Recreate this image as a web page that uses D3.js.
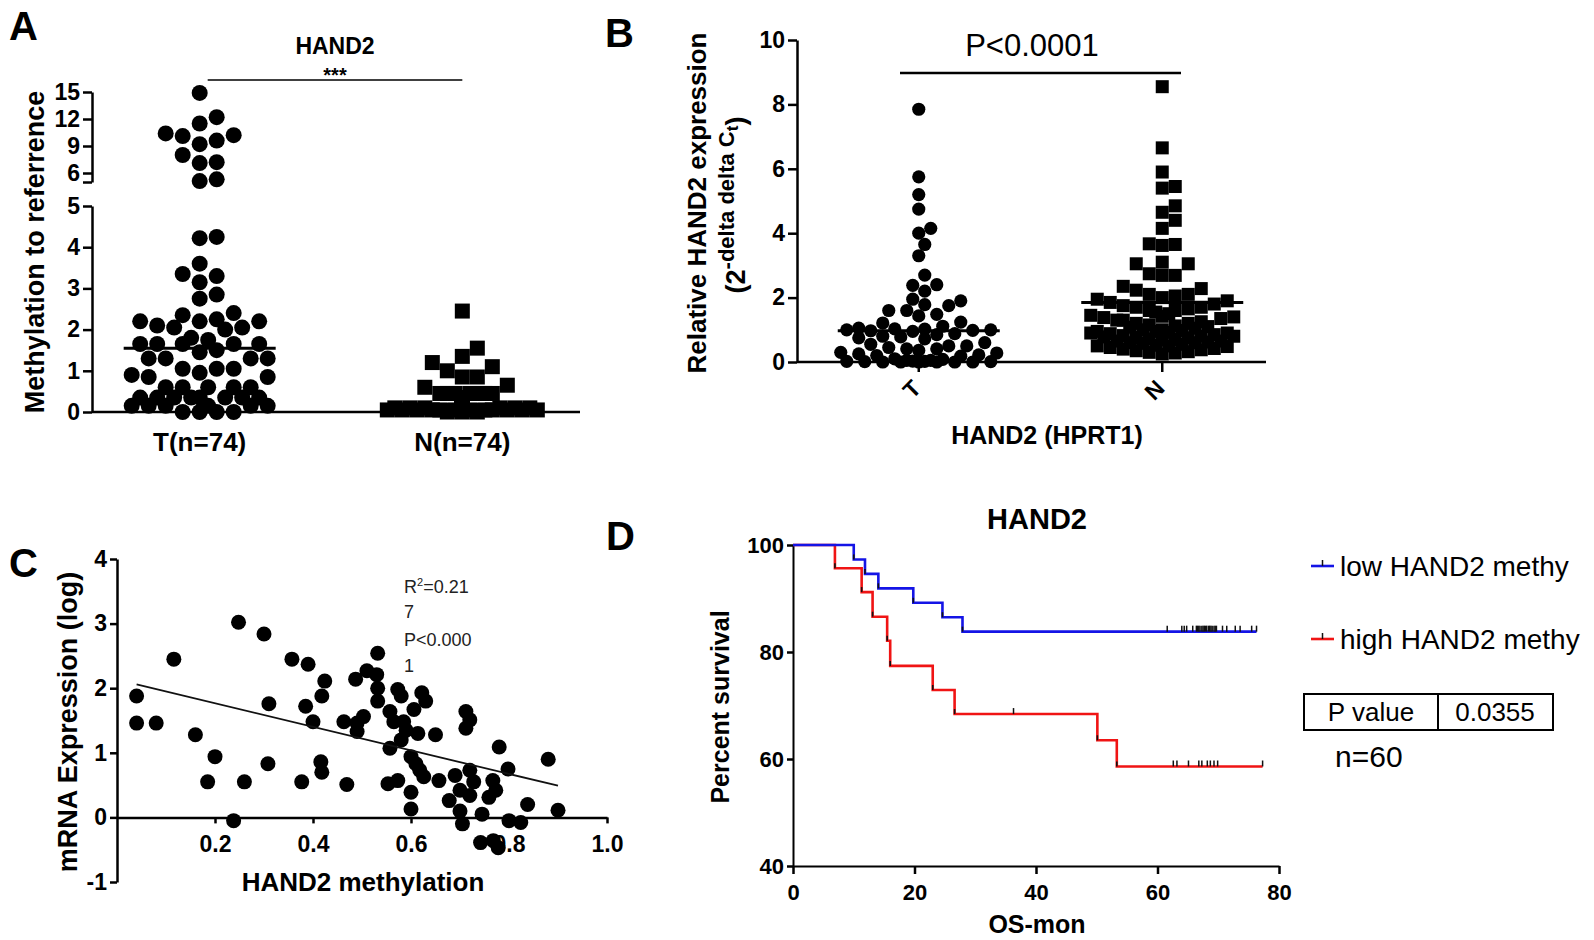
<!DOCTYPE html>
<html><head><meta charset="utf-8">
<script src="https://cdn.jsdelivr.net/npm/d3@7"></script>
<style>
body{margin:0;background:#fff}
svg{display:block}
text{font-family:"Liberation Sans",Arial,sans-serif}
</style>
</head><body>
<svg id="chart" width="1594" height="940"></svg>
<script>
// ---------------- DATA ----------------
// Panel A: methylation to reference
const catsA = ["T(n=74)", "N(n=74)"];
const tumorMethyl = [14.9, 12.2, 11.5, 10.1, 10.4, 10.2, 9.6, 9.2, 8.0, 7.1, 7.2, 5.1, 5.3,
  4.25, 4.22, 3.6, 3.3, 3.35, 3.15, 2.85, 2.75,
  2.2, 2.2, 2.35, 2.25, 2.4, 2.2, 2.05, 2.0, 2.05, 2.1, 1.8, 1.75,
  1.65, 1.65, 1.65, 1.65, 1.65, 1.5, 1.45, 1.3, 1.3, 1.3, 1.3,
  1.05, 1.05, 1.05, 0.95, 0.85, 0.85, 0.9,
  0.6, 0.6, 0.6, 0.6, 0.6, 0.35, 0.35, 0.35, 0.35, 0.35, 0.35, 0.35, 0.35,
  0.15, 0.15, 0.15, 0.15, 0.15, 0.15, 0.0, 0.0, 0.0, 0.0];
const normalMethyl = [2.45, 1.55, 1.35, 1.2, 1.1, 1.0, 0.85, 0.85, 0.65, 0.6,
  0.45, 0.45, 0.45, 0.45, 0.45, 0.45, 0.45,
  0.35, 0.35, 0.35, 0.35, 0.35, 0.35, 0.35, 0.35,
  0.25, 0.25, 0.25, 0.25, 0.25, 0.25, 0.25, 0.25, 0.25, 0.25,
  0.18, 0.18, 0.18, 0.18, 0.18, 0.18, 0.18, 0.18, 0.18, 0.18,
  0.1, 0.1, 0.1, 0.1, 0.1, 0.1, 0.1, 0.1, 0.1, 0.1, 0.1, 0.1, 0.1, 0.1,
  0.05, 0.05, 0.05, 0.05, 0.05, 0.05, 0.05, 0.05, 0.05, 0.05, 0.05, 0.05,
  0.0, 0.0, 0.0];
const centerLineA = [1.55, 0.18];
const yTicksALow = [0, 1, 2, 3, 4, 5];
const yTicksAHigh = [6, 9, 12, 15];

// Panel B: relative expression
const catsB = ["T", "N"];
const tumorExpr = [7.85, 5.75, 5.2, 4.75, 4.15, 4.0, 3.65, 3.3, 2.7, 2.4, 2.38, 2.2, 1.95, 1.9,
  1.78, 1.75, 1.6, 1.6, 1.48, 1.43, 1.24, 1.21, 1.11,
  1.05, 1.02, 1.0, 0.98, 0.97, 1.03, 1.0, 0.95,
  0.85, 0.8, 0.75, 0.72, 0.88, 0.78,
  0.6, 0.55, 0.5, 0.45, 0.41, 0.36, 0.41, 0.5,
  0.3, 0.25, 0.2, 0.22, 0.28, 0.18,
  0.1, 0.08, 0.05, 0.05, 0.03, 0.02, 0.02, 0.01, 0.01, 0.0, 0.0, 0.0, 0.0, 0.0, 0.0];
const normalExpr = [8.55, 6.65, 5.9, 5.45, 5.4, 4.85, 4.65, 4.4, 4.15, 3.65, 3.62, 3.67,
  3.05, 3.05, 3.1, 2.74, 2.69, 2.69, 2.28, 2.23, 2.35,
  2.1, 2.05, 2.0, 1.95, 1.9, 2.1, 1.85,
  1.8, 1.7, 1.65, 1.6, 1.75, 1.55, 1.7, 1.6,
  1.5, 1.45, 1.4, 1.35, 1.3, 1.42, 1.38, 1.3,
  1.25, 1.2, 1.15, 1.1, 1.05, 1.2, 1.12, 1.08,
  1.0, 0.98, 0.95, 0.92, 0.9, 0.88, 1.0, 0.95, 0.9,
  0.85, 0.82, 0.8, 0.78, 0.75, 0.72, 0.8, 0.76, 0.7,
  0.68, 0.65, 0.62, 0.6, 0.58, 0.55, 0.65, 0.6,
  0.52, 0.5, 0.48, 0.45, 0.42, 0.4, 0.5,
  0.38, 0.35, 0.32, 0.3, 0.28, 0.25];
const centerLineB = [0.97, 1.85];
const yTicksB = [0, 2, 4, 6, 8, 10];

// Panel C: methylation vs expression
const methylC = [0.04, 0.04, 0.08, 0.116, 0.16, 0.20, 0.185, 0.238, 0.248, 0.26, 0.30, 0.31, 0.308,
  0.357, 0.39, 0.385, 0.40, 0.377, 0.424, 0.418, 0.416, 0.418, 0.463, 0.469, 0.487, 0.49, 0.49,
  0.503, 0.51, 0.53, 0.532, 0.532, 0.532, 0.557, 0.557, 0.553, 0.573, 0.565, 0.573, 0.58, 0.58,
  0.585, 0.59, 0.60, 0.60, 0.60, 0.606, 0.61, 0.614, 0.618, 0.622, 0.626, 0.63, 0.65, 0.657,
  0.678, 0.69, 0.70, 0.70, 0.705, 0.712, 0.72, 0.712, 0.72, 0.728, 0.72, 0.742, 0.745, 0.759,
  0.767, 0.773, 0.768, 0.778, 0.78, 0.798, 0.80, 0.824, 0.838, 0.88, 0.90];
const exprC = [1.88, 1.46, 1.46, 2.45, 1.28, 0.94, 0.55, -0.05, 3.02, 0.55, 2.84, 1.76, 0.83,
  2.45, 2.37, 1.72, 1.48, 0.55, 2.11, 1.88, 0.86, 0.70, 1.48, 0.51, 2.14, 1.46, 1.33,
  1.56, 2.27, 2.21, 2.54, 2.0, 1.8, 1.64, 1.07, 0.52, 0.57, 1.48, 1.98, 1.88, 1.2,
  1.48, 1.35, 0.94, 0.39, 0.13, 1.67, 0.83, 1.3, 0.73, 1.93, 0.63, 1.8, 1.28, 0.57,
  0.26, 0.65, 0.42, 0.1, -0.1, 1.64, 1.51, 1.38, 0.73, 0.55, 0.34, -0.39, 0.05, 0.31,
  0.57, 0.42, -0.36, -0.47, 1.09, 0.75, -0.05, -0.08, 0.2, 0.9, 0.11];
const fitX = [0.04, 0.90];
const fitY = [2.06, 0.49];
const statsC = ["R\u00B2=0.21", "7", "P<0.000", "1"];
const xTicksC = [0.2, 0.4, 0.6, 0.8, 1.0];
const yTicksC = [-1, 0, 1, 2, 3, 4];

// Panel D: Kaplan-Meier
const groupsD = ["low HAND2 methy", "high HAND2 methy"];
const colorsD = ["#1414e6", "#f01414"];
const lowTimes = [0, 10.0, 11.85, 14.05, 19.8, 24.6, 27.9];
const lowSurv = [100, 97.3, 94.6, 91.9, 89.2, 86.5, 83.8];
const lowEnd = 76.3;
const lowCensor = [61.6, 64.0, 64.4, 64.8, 65.8, 66.4, 66.6, 66.8, 67.0, 67.3, 67.5, 67.7, 67.9,
  68.1, 68.4, 68.6, 68.8, 69.0, 69.3, 69.5, 69.7, 70.7, 71.4, 72.8, 73.6, 75.5, 76.3];
const highTimes = [0, 6.9, 11.3, 13.1, 15.5, 16.0, 23.0, 26.6, 50.1, 53.3];
const highSurv = [100, 95.65, 91.2, 86.6, 82.1, 77.4, 72.9, 68.4, 63.5, 58.6];
const highEnd = 77.3;
const highCensor = [36.3, 62.6, 63.2, 65.1, 66.8, 67.3, 68.2, 68.7, 69.3, 69.9, 77.3];
const xTicksD = [0, 20, 40, 60, 80];
const yTicksD = [40, 60, 80, 100];
const pTable = ["P value", "0.0355"];
const nLabel = "n=60";

// ---------------- HELPERS ----------------
const svg = d3.select("#chart");
const FONT = '"Liberation Sans",Arial,sans-serif';
const intFmt = d => String(d);

function styleAxis(g, size, weight) {
  g.select(".domain").attr("stroke", "#000").attr("stroke-width", 2.5);
  g.selectAll(".tick line").attr("stroke", "#000").attr("stroke-width", 2.5);
  g.selectAll(".tick text").attr("font-family", FONT).attr("font-size", size)
    .attr("font-weight", weight || "bold").attr("fill", "#000");
  g.attr("font-family", null).attr("font-size", null);
}

// beeswarm-like column layout (GraphPad style)
function swarm(values, yf, size, step, maxOff, shape) {
  const pts = values.map(v => ({ v, y: yf(v) })).sort((a, b) => b.y - a.y);
  const placed = [];
  const ks = [0];
  for (let k = 1; k * step <= maxOff + 0.01; k++) { ks.push(k, -k); }
  pts.forEach(p => {
    let chosen = null, bestGap = -Infinity, bestX = 0;
    for (const k of ks) {
      const x = k * step;
      let gap = Infinity, ok = true;
      for (const q of placed) {
        const dy = Math.abs(q.y - p.y);
        if (dy >= size) continue;
        if (shape === "circle") {
          const d = Math.hypot(x - q.x, p.y - q.y);
          if (d < size * 0.97) { ok = false; gap = Math.min(gap, d); }
        } else {
          const dx = Math.abs(x - q.x);
          if (dx < size * 0.97) { ok = false; gap = Math.min(gap, dx); }
        }
      }
      if (ok) { chosen = x; break; }
      if (gap > bestGap + 0.5) { bestGap = gap; bestX = x; }
    }
    p.x = chosen !== null ? chosen : bestX;
    placed.push(p);
  });
  return placed;
}

function panelLetter(t, x, y) {
  svg.append("text").attr("x", x).attr("y", y).attr("font-size", 40)
    .attr("font-weight", "bold").text(t);
}
function boldText(g, x, y, size, txt, rot) {
  const t = g.append("text").attr("text-anchor", "middle").attr("font-size", size).attr("font-weight", "bold");
  if (rot) t.attr("transform", `translate(${x},${y}) rotate(-90)`);
  else t.attr("x", x).attr("y", y);
  return t.text(txt);
}

// ---------------- PANEL A ----------------
(function () {
  const yLow = d3.scaleLinear().domain([0, 5]).range([412, 206]);
  const yHigh = d3.scaleLinear().domain([5, 15]).range([182, 92]);
  const yA = v => (v <= 5 ? yLow(v) : yHigh(v));
  const xA = d3.scalePoint().domain(catsA).range([92, 570]).padding(0.41);
  const g = svg.append("g");

  const gl = g.append("g").attr("transform", "translate(92,0)")
    .call(d3.axisLeft(yLow).tickValues(yTicksALow).tickFormat(intFmt).tickSize(9).tickSizeOuter(0).tickPadding(3));
  styleAxis(gl, 23);
  const gh = g.append("g").attr("transform", "translate(92,0)")
    .call(d3.axisLeft(yHigh).tickValues([5].concat(yTicksAHigh)).tickSize(9).tickSizeOuter(0).tickPadding(3)
      .tickFormat(d => (d === 5 ? "" : String(d))));
  styleAxis(gh, 23);

  g.append("line").attr("x1", 92).attr("x2", 580).attr("y1", yLow(0)).attr("y2", yLow(0))
    .attr("stroke", "#000").attr("stroke-width", 2.5);
  catsA.forEach(c => boldText(g, xA(c), 451, 26, c));

  const tPts = swarm(tumorMethyl, yA, 16, 8.5, 72, "circle");
  g.append("g").selectAll("circle").data(tPts).join("circle")
    .attr("cx", d => xA(catsA[0]) + d.x).attr("cy", d => d.y).attr("r", 8).attr("fill", "#000");
  const nPts = swarm(normalMethyl, yA, 15, 7.5, 80, "square");
  g.append("g").selectAll("rect").data(nPts).join("rect")
    .attr("x", d => xA(catsA[1]) + d.x - 7.5).attr("y", d => d.y - 7.5)
    .attr("width", 15).attr("height", 15).attr("fill", "#000");

  [[catsA[0], centerLineA[0], 76], [catsA[1], centerLineA[1], 80]].forEach(([c, v, hw]) => {
    g.append("line").attr("x1", xA(c) - hw).attr("x2", xA(c) + hw)
      .attr("y1", yLow(v)).attr("y2", yLow(v)).attr("stroke", "#000").attr("stroke-width", 3);
  });

  boldText(g, 44, 252, 27, "Methylation to referrence", true);
  boldText(g, 335, 54, 23, "HAND2");
  g.append("line").attr("x1", xA(catsA[0]) + 8).attr("x2", xA(catsA[1]))
    .attr("y1", 80).attr("y2", 80).attr("stroke", "#000").attr("stroke-width", 1.5);
  boldText(g, 335, 82, 20, "***");
  panelLetter("A", 9, 40);
})();

// ---------------- PANEL B ----------------
(function () {
  const yB = d3.scaleLinear().domain([0, 10]).range([362, 40]);
  const xB = d3.scalePoint().domain(catsB).range([797, 1284]).padding(0.5);
  const g = svg.append("g");
  const gy = g.append("g").attr("transform", "translate(797,0)")
    .call(d3.axisLeft(yB).tickValues(yTicksB).tickFormat(intFmt).tickSize(9).tickSizeOuter(0).tickPadding(3));
  styleAxis(gy, 23);
  g.append("line").attr("x1", 797).attr("x2", 1266).attr("y1", yB(0)).attr("y2", yB(0))
    .attr("stroke", "#000").attr("stroke-width", 2.5);
  catsB.forEach(c => {
    g.append("line").attr("x1", xB(c)).attr("x2", xB(c)).attr("y1", yB(0)).attr("y2", yB(0) + 10)
      .attr("stroke", "#000").attr("stroke-width", 2.5);
    g.append("text").attr("transform", `translate(${xB(c) - 2},${yB(0) + 22}) rotate(-45)`)
      .attr("text-anchor", "end").attr("dy", "0.35em")
      .attr("font-size", 23).attr("font-weight", "bold").text(c);
  });

  const tPts = swarm(tumorExpr, yB, 13, 6, 81, "circle");
  g.append("g").selectAll("circle").data(tPts).join("circle")
    .attr("cx", d => xB(catsB[0]) + d.x).attr("cy", d => d.y).attr("r", 6.6).attr("fill", "#000");
  const nPts = swarm(normalExpr, yB, 13, 6.5, 72, "square");
  g.append("g").selectAll("rect").data(nPts).join("rect")
    .attr("x", d => xB(catsB[1]) + d.x - 6.5).attr("y", d => d.y - 6.5)
    .attr("width", 13).attr("height", 13).attr("fill", "#000");

  catsB.forEach((c, i) => {
    g.append("line").attr("x1", xB(c) - 81).attr("x2", xB(c) + 81)
      .attr("y1", yB(centerLineB[i])).attr("y2", yB(centerLineB[i]))
      .attr("stroke", "#000").attr("stroke-width", 3);
  });

  g.append("line").attr("x1", 900).attr("x2", 1181).attr("y1", 73).attr("y2", 73)
    .attr("stroke", "#000").attr("stroke-width", 2.5);
  g.append("text").attr("x", 1032).attr("y", 56).attr("text-anchor", "middle")
    .attr("font-size", 31).text("P<0.0001");

  boldText(g, 1047, 444, 25, "HAND2 (HPRT1)");
  boldText(g, 706, 203, 26, "Relative HAND2 expression", true);
  const t2 = g.append("text").attr("transform", "translate(745,205) rotate(-90)").attr("text-anchor", "middle")
    .attr("font-size", 27).attr("font-weight", "bold");
  t2.append("tspan").text("(2");
  t2.append("tspan").attr("font-size", 22).attr("dy", -11).text("-delta delta C");
  t2.append("tspan").attr("font-size", 17).attr("dy", 4).text("t");
  t2.append("tspan").attr("dy", 7).text(")");
  panelLetter("B", 605, 47);
})();

// ---------------- PANEL C ----------------
(function () {
  const xC = d3.scaleLinear().domain([0, 1]).range([117, 607]);
  const yC = d3.scaleLinear().domain([-1, 4]).range([882, 559]);
  const g = svg.append("g");
  const gy = g.append("g").attr("transform", "translate(117,0)")
    .call(d3.axisLeft(yC).tickValues(yTicksC).tickFormat(intFmt).tickSize(7).tickSizeOuter(0).tickPadding(3));
  styleAxis(gy, 23);
  const gx = g.append("g").attr("transform", `translate(0,${yC(0)})`)
    .call(d3.axisBottom(xC).tickValues(xTicksC).tickFormat(d3.format(".1f")).tickSize(6)
      .tickSizeOuter(0).tickPadding(12));
  styleAxis(gx, 23);

  g.append("g").selectAll("circle").data(methylC).join("circle")
    .attr("cx", d => xC(d)).attr("cy", (d, i) => yC(exprC[i])).attr("r", 7.5).attr("fill", "#000");
  g.append("line").attr("x1", xC(fitX[0])).attr("x2", xC(fitX[1]))
    .attr("y1", yC(fitY[0])).attr("y2", yC(fitY[1])).attr("stroke", "#111").attr("stroke-width", 1.8);

  const stBase = [593, 618, 646, 672];
  statsC.forEach((s, i) => {
    const t = g.append("text").attr("x", 404).attr("y", stBase[i]).attr("font-size", 18).attr("fill", "#222");
    if (i === 0) {
      t.append("tspan").text("R");
      t.append("tspan").attr("font-size", 11).attr("dy", -7).text("2");
      t.append("tspan").attr("dy", 7).text("=0.21");
    } else t.text(s);
  });

  boldText(g, 363, 891, 26, "HAND2 methylation");
  boldText(g, 77, 722, 27, "mRNA Expression (log)", true);
  panelLetter("C", 9, 577);
})();

// ---------------- PANEL D ----------------
(function () {
  const xD = d3.scaleLinear().domain([0, 80]).range([793, 1279]);
  const yD = d3.scaleLinear().domain([40, 100]).range([866, 545]);
  const g = svg.append("g");
  const gy = g.append("g").attr("transform", "translate(793,0)")
    .call(d3.axisLeft(yD).tickValues(yTicksD).tickFormat(intFmt).tickSize(6).tickSizeOuter(0).tickPadding(3));
  styleAxis(gy, 22);
  const gx = g.append("g").attr("transform", `translate(0,${yD(40)})`)
    .call(d3.axisBottom(xD).tickValues(xTicksD).tickFormat(intFmt).tickSize(8).tickSizeOuter(0).tickPadding(10));
  styleAxis(gx, 22);
  gy.select(".domain").attr("stroke-width", 2);
  gx.select(".domain").attr("stroke-width", 2);

  const line = d3.line().x(d => xD(d[0])).y(d => yD(d[1])).curve(d3.curveStepAfter);
  const groups = [
    { times: lowTimes, surv: lowSurv, end: lowEnd, cens: lowCensor, color: colorsD[0] },
    { times: highTimes, surv: highSurv, end: highEnd, cens: highCensor, color: colorsD[1] }
  ];
  groups.slice().reverse().forEach(gr => {
    const pts = gr.times.map((t, i) => [t, gr.surv[i]]);
    pts.push([gr.end, gr.surv[gr.surv.length - 1]]);
    g.append("path").attr("d", line(pts)).attr("fill", "none").attr("stroke", gr.color)
      .attr("stroke-width", 2.6);
  });
  groups.forEach(gr => {
    gr.times.slice(1).forEach((t, i) => {
      g.append("line").attr("x1", xD(t)).attr("x2", xD(t)).attr("y1", yD(gr.surv[i + 1]))
        .attr("y2", yD(gr.surv[i + 1]) - 5).attr("stroke", "#111").attr("stroke-width", 1.6);
    });
    const level = t => { let s = 100; gr.times.forEach((tt, i) => { if (tt <= t) s = gr.surv[i]; }); return s; };
    gr.cens.forEach(t => {
      g.append("line").attr("x1", xD(t)).attr("x2", xD(t)).attr("y1", yD(level(t)))
        .attr("y2", yD(level(t)) - 6).attr("stroke", "#111").attr("stroke-width", 1.5);
    });
  });

  boldText(g, 1037, 529, 29, "HAND2");
  boldText(g, 1037, 933, 25, "OS-mon");
  boldText(g, 729, 707, 25, "Percent survival", true);

  const legY = [566, 639];
  groupsD.forEach((name, i) => {
    g.append("line").attr("x1", 1311).attr("x2", 1334).attr("y1", legY[i]).attr("y2", legY[i])
      .attr("stroke", colorsD[i]).attr("stroke-width", 2.6);
    g.append("line").attr("x1", 1322.5).attr("x2", 1322.5).attr("y1", legY[i]).attr("y2", legY[i] - 6)
      .attr("stroke", "#111").attr("stroke-width", 1.5);
    g.append("text").attr("x", 1340).attr("y", legY[i] + 10).attr("font-size", 28).text(name);
  });
  g.append("rect").attr("x", 1304).attr("y", 694).attr("width", 249).attr("height", 36)
    .attr("fill", "none").attr("stroke", "#000").attr("stroke-width", 2);
  g.append("line").attr("x1", 1438).attr("x2", 1438).attr("y1", 694).attr("y2", 730)
    .attr("stroke", "#000").attr("stroke-width", 2);
  g.append("text").attr("x", 1371).attr("y", 721).attr("text-anchor", "middle").attr("font-size", 26).text(pTable[0]);
  g.append("text").attr("x", 1495).attr("y", 721).attr("text-anchor", "middle").attr("font-size", 26).text(pTable[1]);
  g.append("text").attr("x", 1335).attr("y", 767).attr("font-size", 30).text(nLabel);
  panelLetter("D", 606, 550);
})();
</script>
</body></html>
